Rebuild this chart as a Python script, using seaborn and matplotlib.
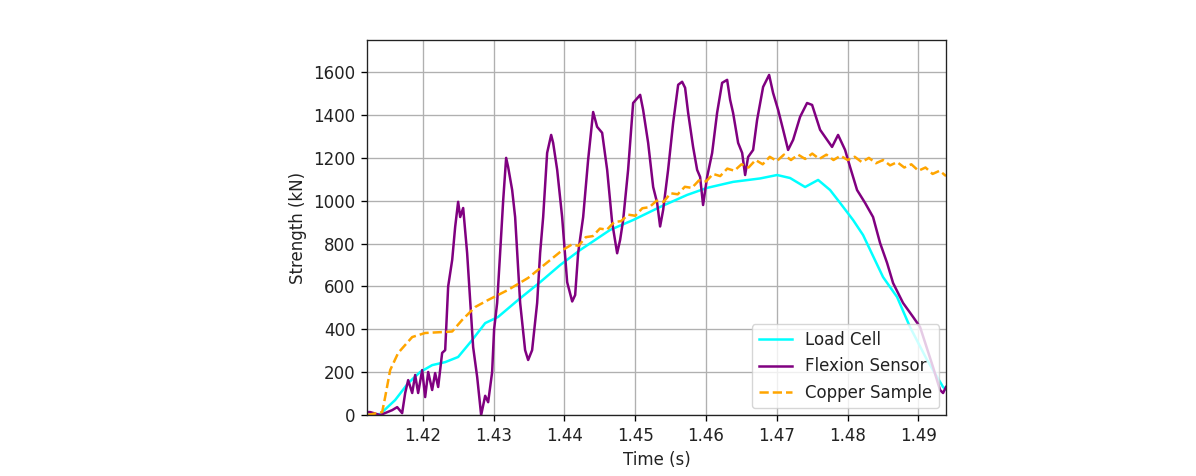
import matplotlib
matplotlib.use("Agg")
import matplotlib.pyplot as plt
import seaborn as sns
import pandas as pd

# ---- data ----
load_t = [1.41213, 1.41397, 1.41608, 1.41792, 1.41962, 1.42131, 1.42315, 1.42498,
          1.42696, 1.42880, 1.43063, 1.43345, 1.43656, 1.43939, 1.44221, 1.44645,
          1.44970, 1.45351, 1.45732, 1.46015, 1.46382, 1.46764, 1.47004, 1.47187,
          1.47399, 1.47583, 1.47752, 1.47893, 1.48077, 1.48218, 1.48500, 1.48698,
          1.48881, 1.49122, 1.49348, 1.49390]
load_v = [0, 5, 70, 149, 201, 233, 247, 271,
          350, 429, 458, 537, 620, 700, 770, 864,
          910, 971, 1027, 1060, 1088, 1104, 1120, 1106,
          1064, 1097, 1050, 990, 910, 840, 644, 551,
          411, 257, 131, 120]

flex_t = [1.41213, 1.41255, 1.41397, 1.41566, 1.41637, 1.41707, 1.41750, 1.41792,
          1.41849, 1.41891, 1.41933, 1.41990, 1.42032, 1.42075, 1.42131, 1.42173,
          1.42216, 1.42272, 1.42315, 1.42357, 1.42414, 1.42456, 1.42498, 1.42527,
          1.42569, 1.42625, 1.42710, 1.42767, 1.42823, 1.42880, 1.42922, 1.42978,
          1.43006, 1.43049, 1.43091, 1.43134, 1.43176, 1.43204, 1.43261, 1.43303,
          1.43374, 1.43444, 1.43487, 1.43543, 1.43614, 1.43656, 1.43699, 1.43755,
          1.43812, 1.43840, 1.43897, 1.43967, 1.44038, 1.44109, 1.44151, 1.44193,
          1.44264, 1.44334, 1.44405, 1.44461, 1.44532, 1.44603, 1.44673, 1.44744,
          1.44786, 1.44829, 1.44899, 1.44970, 1.45069, 1.45111, 1.45182, 1.45253,
          1.45309, 1.45351, 1.45394, 1.45464, 1.45535, 1.45606, 1.45662, 1.45704,
          1.45747, 1.45817, 1.45874, 1.45916, 1.45958, 1.46015, 1.46086, 1.46156,
          1.46227, 1.46298, 1.46340, 1.46382, 1.46453, 1.46510, 1.46552, 1.46594,
          1.46665, 1.46721, 1.46806, 1.46891, 1.46947, 1.47018, 1.47089, 1.47159,
          1.47230, 1.47328, 1.47427, 1.47498, 1.47611, 1.47710, 1.47780, 1.47865,
          1.47964, 1.48034, 1.48133, 1.48246, 1.48359, 1.48458, 1.48557, 1.48642,
          1.48783, 1.48924, 1.49023, 1.49206, 1.49305, 1.49348, 1.49390]
flex_v = [14, 14, 0, 23, 37, 9, 103, 163,
          103, 187, 103, 210, 84, 201, 117, 196,
          131, 290, 303, 600, 724, 878, 995, 924,
          966, 756, 317, 177, 0, 90, 60, 200,
          400, 523, 756, 1000, 1200, 1158, 1050, 924,
          523, 303, 257, 303, 523, 756, 924, 1223,
          1307, 1270, 1144, 924, 620, 530, 560, 756,
          924, 1190, 1414, 1345, 1317, 1144, 900, 755,
          817, 910, 1144, 1456, 1494, 1424, 1270, 1064,
          990, 880, 957, 1144, 1363, 1541, 1555, 1527,
          1410, 1251, 1144, 1111, 980, 1111, 1223, 1410,
          1550, 1564, 1471, 1410, 1270, 1223, 1120, 1204,
          1237, 1377, 1531, 1587, 1503, 1424, 1331, 1237,
          1284, 1391, 1456, 1447, 1331, 1284, 1251, 1307,
          1237, 1158, 1050, 990, 924, 803, 710, 616,
          523, 458, 411, 224, 117, 103, 131]

copper_t = [1.41213, 1.41425, 1.41467, 1.41538, 1.41651, 1.41849, 1.42032, 1.42315,
            1.42414, 1.42555, 1.42738, 1.42922, 1.43204, 1.43487, 1.43939,
            1.4400, 1.4410, 1.4420, 1.4430, 1.4440, 1.4450, 1.4460, 1.4470,
            1.4480, 1.4490, 1.4500, 1.4510, 1.4520, 1.4530, 1.4540, 1.4550,
            1.4560, 1.4570, 1.4580, 1.4590, 1.4600, 1.4610, 1.4620, 1.4630,
            1.4640, 1.4650, 1.4660, 1.4670, 1.4680, 1.4690, 1.4700, 1.4710,
            1.4720, 1.4730, 1.4740, 1.4750, 1.4760, 1.4770, 1.4780, 1.4790,
            1.4800, 1.4810, 1.4820, 1.4830, 1.4840, 1.4850, 1.4860, 1.4870,
            1.4880, 1.4890, 1.4900, 1.4910, 1.4920, 1.4930, 1.4939]
copper_v = [0, 14, 84, 210, 290, 364, 383, 388,
            390, 444, 504, 537, 584, 640, 761,
            775, 795, 790, 830, 835, 870, 865, 900,
            905, 935, 930, 965, 970, 1000, 995, 1035,
            1030, 1065, 1060, 1095, 1090, 1125, 1115, 1150,
            1140, 1170, 1155, 1190, 1170, 1205, 1185, 1215,
            1190, 1215, 1195, 1220, 1195, 1215, 1190, 1210,
            1190, 1205, 1180, 1200, 1175, 1190, 1165, 1180,
            1155, 1170, 1140, 1155, 1125, 1140, 1115]

x_ticks = [1.42, 1.43, 1.44, 1.45, 1.46, 1.47, 1.48, 1.49]
y_ticks = [0, 200, 400, 600, 800, 1000, 1200, 1400, 1600]

plt.rcParams['font.family'] = ['DejaVu Sans']
plt.rcParams['font.size'] = 12
plt.rcParams['xtick.major.size'] = 4.2
plt.rcParams['ytick.major.size'] = 4.2
plt.rcParams['xtick.major.width'] = 0.96
plt.rcParams['ytick.major.width'] = 0.96
plt.rcParams['xtick.major.pad'] = 4.2
plt.rcParams['ytick.major.pad'] = 4.2
plt.rcParams['text.color'] = '#222222'
plt.rcParams['xtick.labelcolor'] = '#222222'
plt.rcParams['ytick.labelcolor'] = '#222222'
plt.rcParams['axes.labelcolor'] = '#222222'

fig = plt.figure(figsize=(11.96, 4.76), dpi=100)
ax = fig.add_axes([0.307, 0.128, 0.484, 0.788])

df_load = pd.DataFrame({"t": load_t, "v": load_v})
df_flex = pd.DataFrame({"t": flex_t, "v": flex_v})
df_cu = pd.DataFrame({"t": copper_t, "v": copper_v})

sns.lineplot(data=df_load, x="t", y="v", ax=ax, color="cyan", lw=1.8, label="Load Cell")
sns.lineplot(data=df_flex, x="t", y="v", ax=ax, color="purple", lw=1.8, label="Flexion Sensor")
sns.lineplot(data=df_cu, x="t", y="v", ax=ax, color="orange", lw=1.8, linestyle="--",
             label="Copper Sample")

ax.set_xlim(1.41213, 1.4939)
ax.set_ylim(0, 1750)
ax.set_xticks(x_ticks)
ax.set_xticklabels([f"{v:.2f}" for v in x_ticks])
ax.set_yticks(y_ticks)
ax.grid(True, color="#b0b0b0", lw=0.96)
ax.set_axisbelow(True)
ax.set_xlabel("Time (s)", labelpad=4.8)
ax.set_ylabel("Strength (kN)", labelpad=4.8)
for s in ax.spines.values():
    s.set_color("#222222")
    s.set_linewidth(0.96)
ax.legend(loc="lower right", fontsize=12, borderaxespad=0.4)

fig.savefig("out.png", dpi=100)
